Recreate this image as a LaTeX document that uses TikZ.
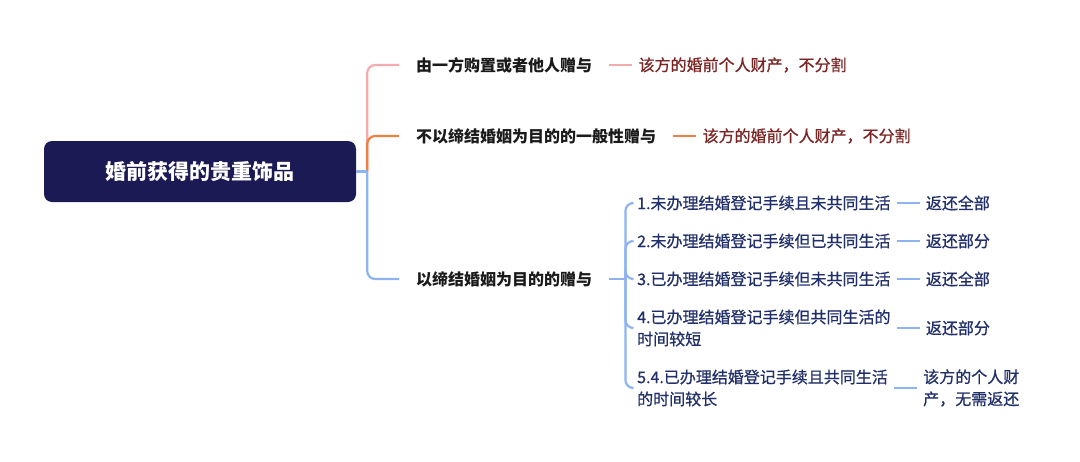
\documentclass[tikz,border=0pt]{standalone}
\usepackage{fontspec}
\setmainfont{Noto Sans CJK SC}
\newfontfamily\medfont{Noto Sans CJK SC}[FakeBold=0.8]
\usetikzlibrary{positioning}
\definecolor{rootfill}{HTML}{1B1A55}
\definecolor{pinkline}{HTML}{F4ABAE}
\definecolor{orangeline}{HTML}{EF8040}
\definecolor{blueline}{HTML}{8DB3F2}
\definecolor{redtext}{HTML}{7A2323}
\definecolor{navytext}{HTML}{22306A}
\definecolor{labeltext}{HTML}{1A1A1A}
\tikzset{
  rootbox/.style={fill=rootfill, rounded corners=8pt, minimum width=312pt, minimum height=61pt,
    text=white, font=\fontsize{21pt}{25pt}\selectfont\bfseries, inner sep=0pt},
  lab/.style={anchor=west, inner xsep=17pt, inner ysep=2pt, text=labeltext,
    font=\fontsize{16pt}{22pt}\selectfont\bfseries},
  res/.style={inner xsep=6pt, inner ysep=2pt, text=redtext, align=left,
    font=\fontsize{16pt}{22pt}\medfont},
  kid/.style={anchor=west, inner xsep=6pt, inner ysep=2pt, text=navytext, align=left,
    font=\fontsize{16pt}{22pt}\medfont},
  kidres/.style={inner xsep=6pt, inner ysep=2pt, text=navytext, align=left,
    font=\fontsize{16pt}{22pt}\medfont},
  conn/.style={line width=2.2pt, rounded corners=8pt},
}
\begin{document}
\begin{tikzpicture}[x=1pt,y=-1pt]
\useasboundingbox (0,0) rectangle (1080,461);
% root
\node[rootbox] (root) at (200,171.5) {婚前获得的贵重饰品};
\coordinate (j) at ([xshift=11pt]root.east);
% level 1
\node[lab] (a) at (399,65) {由一方购置或者他人赠与};
\node[lab] (b) at (399,136) {不以缔结婚姻为目的的一般性赠与};
\node[lab] (c) at (399,279) {以缔结婚姻为目的的赠与};
\node[res, right=23pt of a] (ra) {该方的婚前个人财产，不分割};
\node[res, right=23pt of b] (rb) {该方的婚前个人财产，不分割};
% children
\coordinate (k) at ([xshift=16pt]c.east);
\node[kid] (c1) at (631,203) {1.未办理结婚登记手续且未共同生活};
\node[kid] (c2) at (631,241) {2.未办理结婚登记手续但已共同生活};
\node[kid] (c3) at (631,279) {3.已办理结婚登记手续但未共同生活};
\node[kid] (c4) at (631,328) {4.已办理结婚登记手续但共同生活的\\时间较短};
\node[kid] (c5) at (631,388) {5.4.已办理结婚登记手续且共同生活\\的时间较长};
\node[kidres, right=23pt of c1] (r1) {返还全部};
\node[kidres, right=23pt of c2] (r2) {返还部分};
\node[kidres, right=23pt of c3] (r3) {返还全部};
\node[kidres, right=23pt of c4] (r4) {返还部分};
\node[kidres, right=23pt of c5] (r5) {该方的个人财\\产，无需返还};
% connectors level 1
\draw[conn, pinkline] (j) |- (a.west);
\draw[conn, orangeline] (j) |- (b.west);
\draw[conn, blueline] (j) |- (c.west);
\draw[conn, blueline] (root.east) -- (j);
\draw[conn, pinkline] (a.east) -- (ra.west);
\draw[conn, orangeline] (b.east) -- (rb.west);
% bracket
\draw[conn, blueline] (c.east) -- (k);
\draw[conn, blueline] (k) |- (c1.west);
\draw[conn, blueline] (k) |- (c2.west);
\draw[conn, blueline] (k) |- (c3.west);
\draw[conn, blueline] (k) |- (c4.west);
\draw[conn, blueline] (k) |- (c5.west);
\draw[conn, blueline] (c1.east) -- (r1.west);
\draw[conn, blueline] (c2.east) -- (r2.west);
\draw[conn, blueline] (c3.east) -- (r3.west);
\draw[conn, blueline] (c4.east) -- (r4.west);
\draw[conn, blueline] (c5.east) -- (r5.west);
\end{tikzpicture}
\end{document}
